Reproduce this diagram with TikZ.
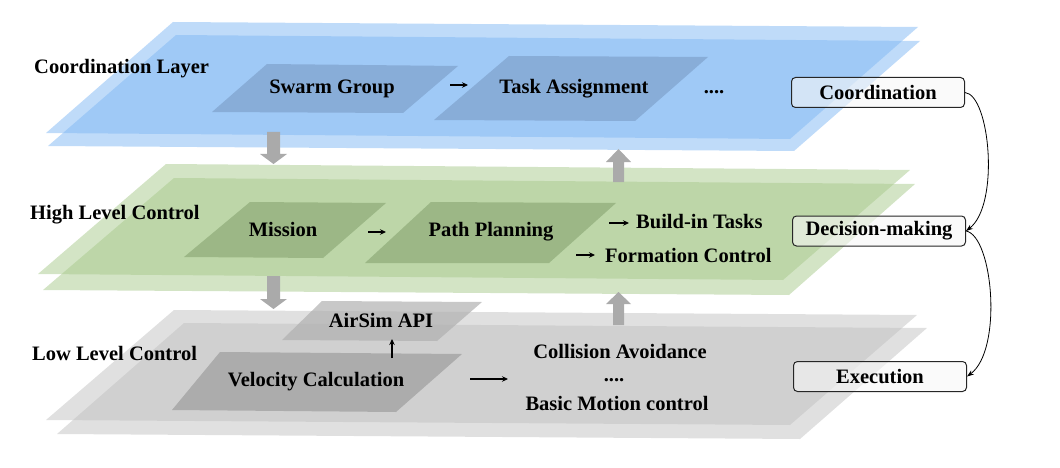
\documentclass[tikz,border=0pt]{standalone}
\usepackage{fontspec}
\setmainfont{Liberation Serif}
\usetikzlibrary{arrows.meta}
\definecolor{bluep}{RGB}{127,183,243}
\definecolor{greenp}{RGB}{167,201,139}
\definecolor{grayp}{RGB}{193,193,193}
\definecolor{blueb}{RGB}{136,173,216}
\definecolor{greenb}{RGB}{156,183,134}
\definecolor{grayb}{RGB}{172,172,172}
\definecolor{airb}{RGB}{174,174,174}
\definecolor{bigarrow}{RGB}{170,170,170}
\tikzset{
  lbl/.style={font=\fontsize{20.5}{24}\selectfont\bfseries, inner sep=0pt, anchor=base},
  lblw/.style={lbl, anchor=base west},
  plane/.style={opacity=0.5},
  rolebox/.style={draw=black!85, line width=1pt, rounded corners=4pt, fill=gray!6,
    fill opacity=0.6, text opacity=1, minimum width=173pt, minimum height=30pt,
    inner sep=0pt, font=\fontsize{20.5}{24}\selectfont\bfseries},
  smallarrow/.style={line width=1.2pt, -{Stealth[length=6pt,width=5.5pt]}},
  curvearrow/.style={line width=0.8pt, -{Stealth[length=7pt,width=5pt]}},
  blockarrow/.style={fill=bigarrow},
}
\begin{document}
\begin{tikzpicture}[x=1pt,y=-1pt]
\useasboundingbox (0,0) rectangle (1060,468);
% ---------- Coordination layer (blue) ----------
\fill[bluep, plane] (173,22) -- (918,27) -- (790,139) -- (46,133) -- cycle;
\fill[bluep, plane] (176,35) -- (920,41) -- (794,151) -- (48,146) -- cycle;
\fill[blueb] (267,64) -- (458,66) -- (403,113) -- (212,112) -- cycle;
\fill[blueb] (509,56) -- (708,57) -- (635,121) -- (434,120) -- cycle;
% ---------- High level (green) ----------
\fill[greenp, plane] (166,164) -- (910,170) -- (783,280) -- (38,274) -- cycle;
\fill[greenp, plane] (174,178) -- (915,184) -- (789,295) -- (43,290) -- cycle;
\fill[greenb] (250,202) -- (386,203) -- (323,258) -- (184,257) -- cycle;
\fill[greenb] (431,202) -- (616,203) -- (549,263) -- (365,263) -- cycle;
% ---------- Low level (gray) ----------
\fill[grayp, plane] (174,310) -- (917,315) -- (790,425) -- (46,420) -- cycle;
\fill[grayp, plane] (184,323) -- (927,328) -- (800,439) -- (57,434) -- cycle;
\fill[airb, opacity=0.68] (322,301) -- (482,302) -- (437,341) -- (282,340) -- cycle;
\fill[grayb] (220,352) -- (462,354) -- (396,412) -- (172,410) -- cycle;
% ---------- block arrows ----------
\fill[blockarrow] (267,132) -- (280,132) -- (280,154) -- (287,154) -- (273.5,164) -- (260,154) -- (267,154) -- cycle;
\fill[blockarrow] (613,182) -- (624,182) -- (624,162) -- (631,162) -- (618.5,149) -- (606,162) -- (613,162) -- cycle;
\fill[blockarrow] (267,276) -- (280,276) -- (280,299) -- (287,299) -- (273.5,309) -- (260,299) -- (267,299) -- cycle;
\fill[blockarrow] (613,325) -- (624,325) -- (624,304) -- (631,304) -- (618.5,292) -- (606,304) -- (613,304) -- cycle;
% ---------- texts ----------
\node[lblw] (tcl) at (34,74) {Coordination Layer};
\node[lbl] (tsg) at (332,94) {Swarm Group};
\node[lbl] (tta) at (574,94) {Task Assignment};
\node[lbl] (tdots1) at (714,94) {....};
\node[lblw] (thl) at (30,219) {High Level Control};
\node[lbl] (tmi) at (283,236) {Mission};
\node[lbl] (tpp) at (491,236) {Path Planning};
\node[lblw] (tbt) at (636,228) {Build-in Tasks};
\node[lblw] (tfc) at (605,262) {Formation Control};
\node[lblw] (tll) at (32,360) {Low Level Control};
\node[lbl] (tair) at (381,327) {AirSim API};
\node[lbl] (tvc) at (316,386) {Velocity Calculation};
\node[lbl] (tca) at (620,358) {Collision Avoidance};
\node[lbl] (tdots2) at (614,381) {....};
\node[lbl] (tbm) at (617,410) {Basic Motion control};
% ---------- role boxes ----------
\node[rolebox] (coord) at (878,92.5) {Coordination};
\node[rolebox] (dec) at (879,231) {Decision-making};
\node[rolebox] (exe) at (880,376.5) {Execution};
% ---------- small arrows ----------
\coordinate (a1s) at (450,85); \coordinate (a1e) at (468,85);
\coordinate (a2s) at (368,232); \coordinate (a2e) at (386,232);
\coordinate (a3s) at (609,223); \coordinate (a3e) at (629,223);
\coordinate (a4s) at (576,255); \coordinate (a4e) at (595,255);
\coordinate (a5s) at (470,379); \coordinate (a5e) at (508,379);
\coordinate (a6s) at (392,358); \coordinate (a6e) at (392,339);
\draw[smallarrow] (a1s) -- (a1e);
\draw[smallarrow] (a2s) -- (a2e);
\draw[smallarrow] (a3s) -- (a3e);
\draw[smallarrow] (a4s) -- (a4e);
\draw[smallarrow] (a5s) -- (a5e);
\draw[smallarrow] (a6s) -- (a6e);
% ---------- curved connectors ----------
\draw[curvearrow] (coord.east) .. controls (990,95) and (1000,205) .. (dec.east);
\draw[curvearrow] (dec.east) .. controls (993,236) and (1003,350) .. (exe.east);
\end{tikzpicture}
\end{document}
